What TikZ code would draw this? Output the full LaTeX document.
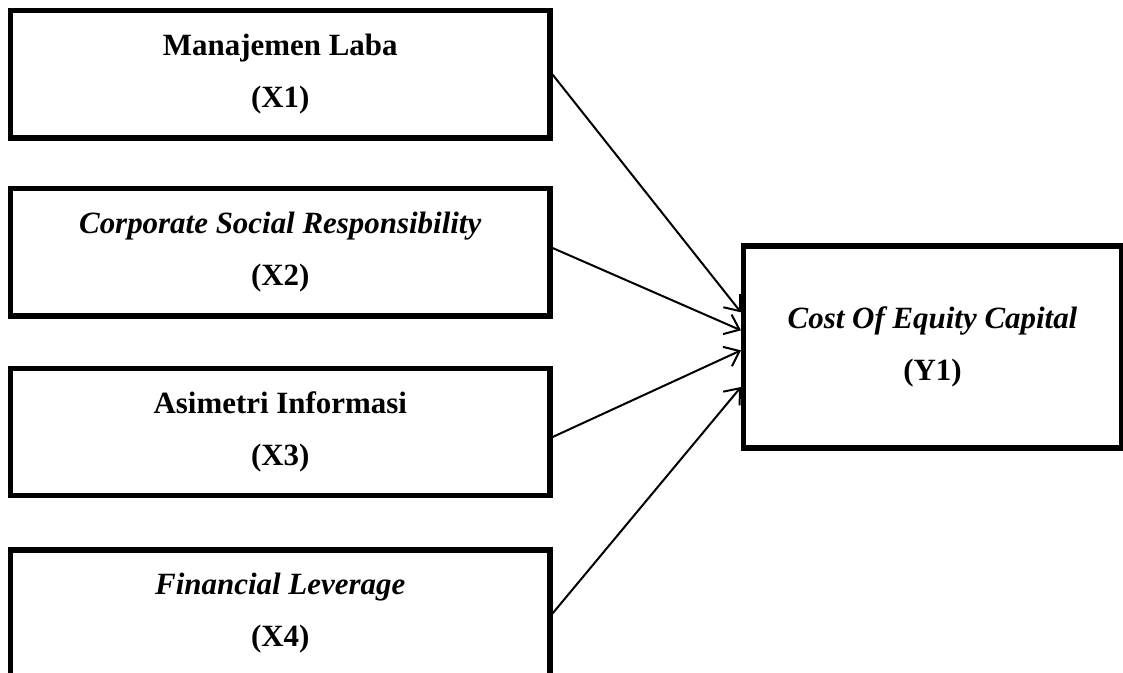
\documentclass[tikz,border=0pt]{standalone}
\usepackage{fontspec}
\setmainfont{Liberation Serif}
\usetikzlibrary{arrows.meta}

\begin{document}
\begin{tikzpicture}[x=0.75pt, y=-0.75pt,
  varbox/.style={draw, line width=3.8pt, minimum width=404.6pt, minimum height=95.3pt,
    align=center, font=\fontsize{23.2}{39}\selectfont\bfseries},
  ybox/.style={varbox, minimum width=283.5pt, minimum height=151.5pt},
  arr/.style={line width=1.5pt, -{Straight Barb[length=10pt, width=16pt, line width=1.5pt]}}]
  \useasboundingbox (0,0) rectangle (1123,673);
  \clip (0,0) rectangle (1123,673);
  \node[varbox] (x1) at (280.25,74.5) {Manajemen Laba\\(X1)};
  \node[varbox] (x2) at (280.25,252.5) {\textit{Corporate Social Responsibility}\\(X2)};
  \node[varbox] (x3) at (280.25,432) {Asimetri Informasi\\(X3)};
  \node[varbox] (x4) at (280.25,613.5) {\textit{Financial Leverage}\\(X4)};
  \node[ybox] (y1) at (932.5,347) {\textit{Cost Of Equity Capital}\\(Y1)};
  \draw[arr] (x1.east) -- ([yshift=26pt]y1.west);
  \draw[arr] ([yshift=3.4pt]x2.east) -- ([yshift=12.5pt]y1.west);
  \draw[arr] ([yshift=-3.8pt]x3.east) -- ([yshift=-2.5pt]y1.west);
  \draw[arr] (x4.east) -- ([yshift=-30pt]y1.west);
\end{tikzpicture}
\end{document}
